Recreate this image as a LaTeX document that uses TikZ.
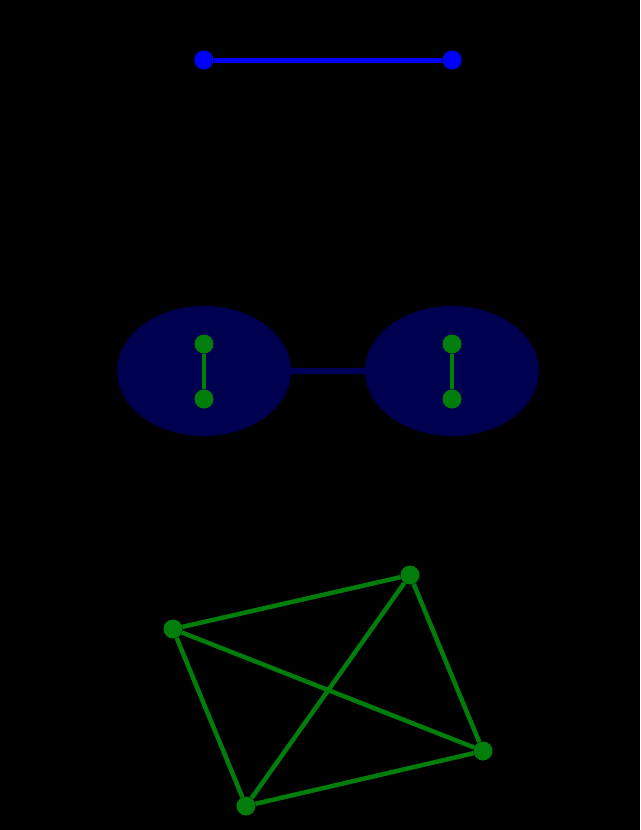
\documentclass[tikz,border=0pt]{standalone}
\usetikzlibrary{shapes.geometric}
\definecolor{dotblue}{RGB}{0,0,255}
\definecolor{navy}{RGB}{0,0,80}
\definecolor{navyline}{RGB}{0,0,90}
\definecolor{gr}{RGB}{0,125,10}
\begin{document}
\begin{tikzpicture}[x=1pt,y=-1pt,
  bdot/.style={circle,fill=dotblue,inner sep=0pt,minimum size=19pt},
  gdot/.style={circle,fill=gr,inner sep=0pt,minimum size=19pt},
  blob/.style={ellipse,fill=navy,inner sep=0pt,minimum width=174pt,minimum height=130pt},
  bedge/.style={draw=dotblue,line width=5pt},
  gedge/.style={draw=gr,line width=4.5pt},
  nedge/.style={draw=navyline,line width=6pt}]
\fill[black] (0,0) rectangle (640,830);
\useasboundingbox (0,0) rectangle (640,830);
% top
\node[bdot] (t1) at (204,60) {};
\node[bdot] (t2) at (452,60) {};
\draw[bedge] (t1) -- (t2);
% middle
\node[blob] (eLb) at (204,371) {};
\node[blob] (eRb) at (452,371) {};
\draw[nedge] (eLb) -- (eRb);
\node[gdot] (a1) at (204,344) {};
\node[gdot] (a2) at (204,399) {};
\node[gdot] (b1) at (452,344) {};
\node[gdot] (b2) at (452,399) {};
\draw[gedge] (a1) -- (a2);
\draw[gedge] (b1) -- (b2);
% bottom K4
\node[gdot] (k1) at (173,629) {};
\node[gdot] (k2) at (410,575) {};
\node[gdot] (k3) at (483,751) {};
\node[gdot] (k4) at (246,806) {};
\draw[gedge] (k1) -- (k2);
\draw[gedge] (k2) -- (k3);
\draw[gedge] (k3) -- (k4);
\draw[gedge] (k4) -- (k1);
\draw[gedge] (k1) -- (k3);
\draw[gedge] (k2) -- (k4);
\end{tikzpicture}
\end{document}
